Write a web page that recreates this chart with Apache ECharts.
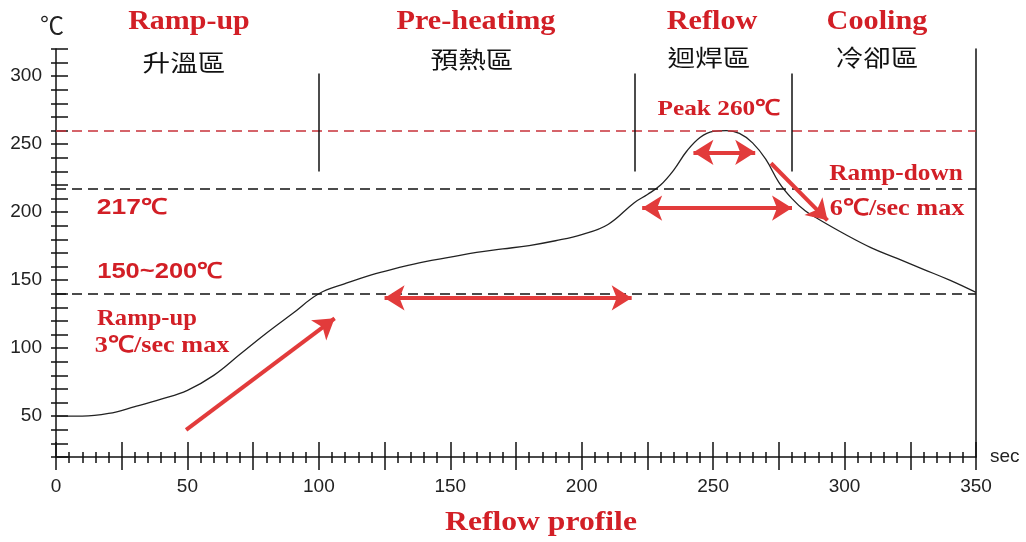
<!DOCTYPE html>
<html>
<head>
<meta charset="utf-8">
<title>Reflow profile</title>
<script src="https://cdn.jsdelivr.net/npm/echarts@6/dist/echarts.min.js"></script>
<style>
  html, body { margin: 0; padding: 0; background: #fff; }
  #chart { width: 1026px; height: 542px; }
</style>
</head>
<body>
<div id="chart"></div>
<script>
// profile curve
const timeSec = [0, 10, 20, 30, 40, 50, 60, 70, 80, 90, 100, 110, 120, 130, 140, 150, 160, 170, 180, 190, 200, 210,
                 220, 225, 230, 235, 240, 245, 250, 255, 260, 265, 270, 275, 280, 285, 290,
                 300, 310, 320, 330, 340, 350];
const tempC   = [50, 50, 52, 57, 62.5, 69, 80, 95.5, 111, 125.5, 140, 147.5, 154, 159, 163.5, 167, 170.5, 173, 175.5, 179, 183.5, 191,
                 207, 213, 220, 231, 245, 255, 259.5, 260, 258, 251, 239, 222, 210, 201, 195,
                 184, 174, 166, 158, 150, 141];

// guide lines
const peakTemp = 260;
const blackLevels = [217, 140];
const zoneEdges = [100, 220, 280];
const zoneEdgeSpan = [230, 302];

// red arrows [start, end] in (sec, ℃)
const rampUpArrow   = [[49.5, 40], [106, 122]];
const soakArrow     = [[125, 137], [219, 137]];
const reflowArrow   = [[223, 203], [280, 203]];
const peakArrow     = [[242.5, 244], [266, 244]];
const rampDownArrow = [[272, 236], [293.5, 194]];

const red = '#d21f26';
const arrowRed = '#e23b3b';
const serif = '"Liberation Serif", "Times New Roman", serif';
const sans = '"Liberation Sans", Arial, sans-serif';
const cjk = '"Noto Sans CJK TC", "Noto Sans CJK SC", sans-serif';

const chart = echarts.init(document.getElementById('chart'));

function arrow(seg, both) {
  return [
    { coord: seg[0], symbol: both ? 'arrow' : 'none', symbolSize: [19, 20] },
    { coord: seg[1], symbol: 'arrow', symbolSize: [19, 20],
      lineStyle: { color: arrowRed, width: 4, type: 'solid' } }
  ];
}

const marks = [];
marks.push([
  { coord: [0, peakTemp], symbol: 'none' },
  { coord: [350, peakTemp], symbol: 'none', lineStyle: { color: '#c8323a', width: 1.5, type: [10, 6] } }
]);
blackLevels.forEach(v => marks.push([
  { coord: [0, v], symbol: 'none' },
  { coord: [350, v], symbol: 'none', lineStyle: { color: '#111', width: 1.5, type: [10, 6] } }
]));
zoneEdges.forEach(x => marks.push([
  { coord: [x, zoneEdgeSpan[0]], symbol: 'none' },
  { coord: [x, zoneEdgeSpan[1]], symbol: 'none', lineStyle: { color: '#111', width: 1.5, type: 'solid' } }
]));
marks.push(arrow(rampUpArrow, false));
marks.push(arrow(soakArrow, true));
marks.push(arrow(reflowArrow, true));
marks.push(arrow(peakArrow, true));
marks.push(arrow(rampDownArrow, false));

function txt(text, x, y, font, fill, sx) {
  return {
    type: 'text', x: x, y: y, scaleX: sx || 1, silent: true,
    style: { text: text, font: font, fill: fill,
      align: 'center', verticalAlign: 'middle',
      textAlign: 'center', textVerticalAlign: 'middle' }
  };
}

const axisTickOpts = (inside, len, minorLen) => ({
  axisTick: { show: true, inside: inside, length: len, lineStyle: { color: '#111', width: 1.5 } },
  minorTick: { show: true, splitNumber: 5, length: minorLen, lineStyle: { color: '#111', width: 1.5 } }
});

const option = {
  backgroundColor: '#fff',
  animation: false,
  grid: { left: 56, right: 50, top: 49, bottom: 85 },
  xAxis: [
    Object.assign({
      type: 'value', min: 0, max: 350, interval: 25,
      name: 'sec', nameLocation: 'end', nameGap: 14,
      nameTextStyle: { fontFamily: sans, fontSize: 19, color: '#222' },
      axisLine: { onZero: false, lineStyle: { color: '#111', width: 1.5 } },
      axisLabel: { margin: 20, fontFamily: sans, fontSize: 19, color: '#222',
        formatter: v => (v % 50 === 0 ? String(v) : '') },
      splitLine: { show: false }
    }, axisTickOpts(true, 15, 5)),
    Object.assign({
      type: 'value', min: 0, max: 350, interval: 25, position: 'bottom',
      axisLine: { show: false, onZero: false },
      axisLabel: { show: false },
      splitLine: { show: false }
    }, axisTickOpts(false, 13, 6))
  ],
  yAxis: [
    {
      type: 'value', min: 20, max: 320, interval: 10,
      name: '℃', nameLocation: 'end', nameGap: 12,
      nameTextStyle: { fontFamily: cjk, fontSize: 24, color: '#222', align: 'right', padding: [0, -8, 0, 0] },
      axisLine: { onZero: false, lineStyle: { color: '#111', width: 1.5 } },
      axisTick: { show: true, inside: true, length: 12, lineStyle: { color: '#111', width: 1.5 } },
      axisLabel: { margin: 14, fontFamily: sans, fontSize: 19, color: '#222',
        formatter: v => (v % 50 === 0 ? String(v) : '') },
      splitLine: { show: false }
    },
    {
      type: 'value', min: 20, max: 320, interval: 10, position: 'left',
      axisLine: { show: false, onZero: false },
      axisTick: { show: true, inside: false, length: 5, lineStyle: { color: '#111', width: 1.5 } },
      axisLabel: { show: false },
      splitLine: { show: false }
    },
    {
      // right frame line
      type: 'value', min: 20, max: 320, position: 'right',
      axisLine: { show: true, onZero: false, lineStyle: { color: '#111', width: 1.5 } },
      axisTick: { show: false },
      axisLabel: { show: false },
      splitLine: { show: false }
    }
  ],
  series: [{
    type: 'line',
    data: timeSec.map((t, i) => [t, tempC[i]]),
    showSymbol: false,
    smooth: 0.4,
    lineStyle: { color: '#222', width: 1.3 },
    markLine: {
      silent: true,
      animation: false,
      label: { show: false },
      emphasis: { disabled: true },
      data: marks
    }
  }],
  graphic: [
    txt('Ramp-up', 189, 22, 'bold 28px ' + serif, red, 1.07),
    txt('升溫區', 184, 62, '23px ' + cjk, '#111', 1.2),
    txt('Pre-heatimg', 476, 22, 'bold 28px ' + serif, red, 1.08),
    txt('預熱區', 472, 59, '23px ' + cjk, '#111', 1.2),
    txt('Reflow', 712, 22, 'bold 28px ' + serif, red, 1.08),
    txt('迴焊區', 709, 57, '23px ' + cjk, '#111', 1.2),
    txt('Cooling', 877, 22, 'bold 28px ' + serif, red, 1.08),
    txt('冷卻區', 877, 57, '23px ' + cjk, '#111', 1.2),
    txt('Peak 260℃', 719, 109, 'bold 22px ' + serif, red, 1.15),
    txt('Ramp-down', 896, 174, 'bold 23px ' + serif, red, 1.1),
    txt('6℃/sec max', 897, 209, 'bold 23px ' + serif, red, 1.14),
    txt('217℃', 132, 208, 'bold 22px ' + sans, red, 1.2),
    txt('150~200℃', 160, 272, 'bold 22px ' + sans, red, 1.16),
    txt('Ramp-up', 147, 319, 'bold 23px ' + serif, red, 1.07),
    txt('3℃/sec max', 162, 346, 'bold 23px ' + serif, red, 1.14),
    txt('Reflow profile', 541, 523, 'bold 28px ' + serif, red, 1.13)
  ]
};

chart.setOption(option);
</script>
</body>
</html>
